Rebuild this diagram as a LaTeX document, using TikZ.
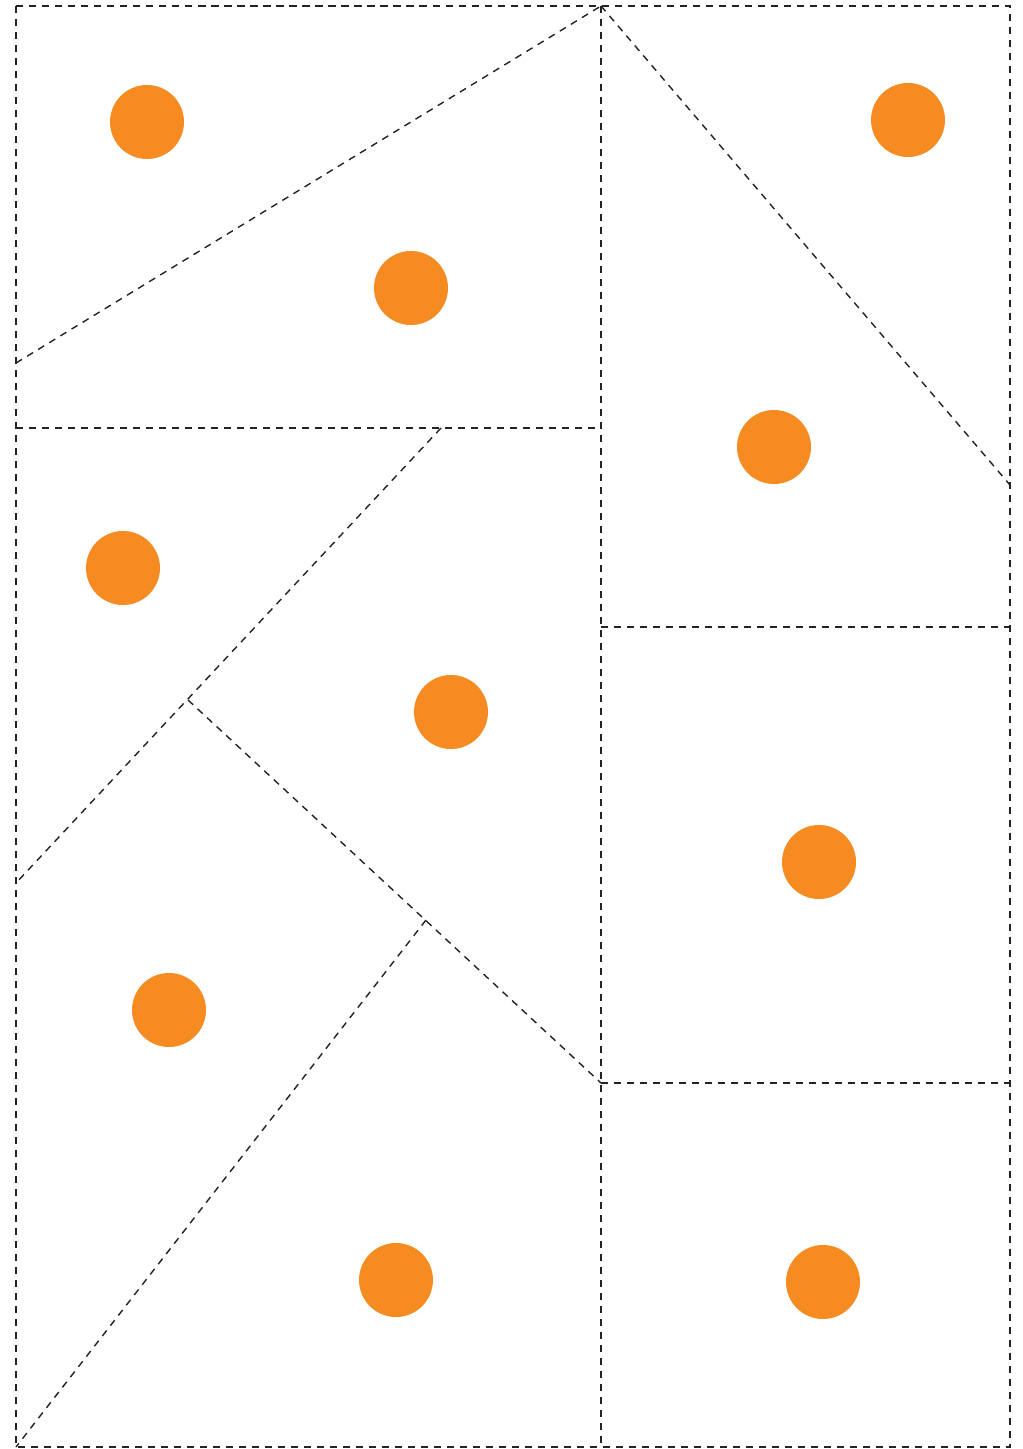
\documentclass[tikz,border=0pt]{standalone}
\definecolor{dotorange}{RGB}{246, 139, 34}
\definecolor{cutgray}{RGB}{35, 35, 35}
\usepackage{tikz}

\begin{document}
\begin{tikzpicture}[x=0.02cm, y=-0.02cm,
    cutline/.style={draw=cutgray, line width=0.8pt, dash pattern=on 4pt off 3.4pt},
    piecedot/.style={fill=dotorange, draw=none}]
  \useasboundingbox (0,0) rectangle (1023,1449);
  % corner and junction points
  \coordinate (tl) at (16,6);
  \coordinate (tm) at (601,6);
  \coordinate (tr) at (1010,6);
  \coordinate (bl) at (16,1447);
  \coordinate (bm) at (601,1447);
  \coordinate (br) at (1010,1447);
  \coordinate (l1) at (16,363);
  \coordinate (l2) at (16,428);
  \coordinate (l3) at (16,883);
  \coordinate (m1) at (601,428);
  \coordinate (m2) at (601,627);
  \coordinate (m3) at (601,1083);
  \coordinate (r1) at (1010,485);
  \coordinate (r2) at (1010,627);
  \coordinate (r3) at (1010,1083);
  \coordinate (h1) at (441,428);
  \coordinate (k1) at (188,700);
  \coordinate (k2) at (426,920);
  % outline
  \draw[cutline] (tl) rectangle (br);
  \draw[cutline] (tm) -- (bm);
  % cuts
  \draw[cutline] (l1) -- (tm);
  \draw[cutline] (l2) -- (m1);
  \draw[cutline] (tm) -- (r1);
  \draw[cutline] (m2) -- (r2);
  \draw[cutline] (m3) -- (r3);
  \draw[cutline] (h1) -- (l3);
  \draw[cutline] (k1) -- (m3);
  \draw[cutline] (k2) -- (bl);
  % dots
  \foreach \px/\py in {147/122, 411/288, 908/120, 774/447, 123/568,
                       451/712, 819/862, 169/1010, 396/1280, 823/1282}
    \fill[piecedot] (\px,\py) circle[radius=37];
\end{tikzpicture}
\end{document}
